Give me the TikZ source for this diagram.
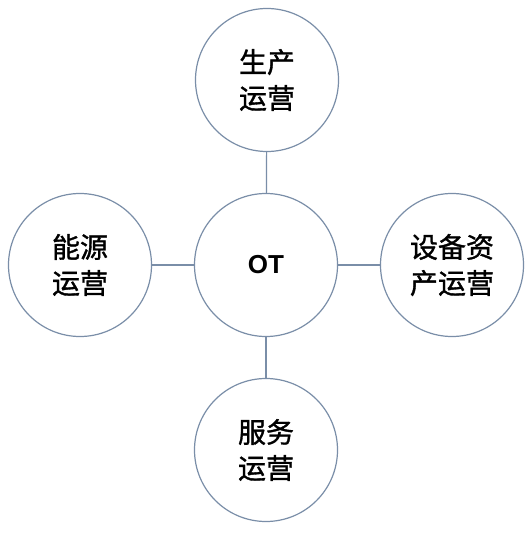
\documentclass[tikz,border=0pt]{standalone}
\usepackage{fontspec}
\newfontfamily\cjk[FakeBold=1.2]{Noto Sans CJK SC}
\newfontfamily\latinb{Liberation Sans}
\definecolor{ringc}{HTML}{7A8EA8}
\begin{document}
\begin{tikzpicture}[x=1pt,y=-1pt,
  ring/.style={circle,draw=ringc,line width=1.2pt,minimum size=143pt,inner sep=0pt,align=center,
    font=\cjk\fontsize{28}{36}\selectfont},
  link/.style={draw=ringc,line width=1.2pt}]
\useasboundingbox[fill=white] (0,0) rectangle (530,534);
\node[ring] (ot) at (266,265) {\latinb\bfseries\fontsize{26}{30}\selectfont OT};
\node[ring] (top) at (267,80) {生产\\运营};
\node[ring] (left) at (80,265) {能源\\运营};
\node[ring] (right) at (452,265) {设备资\\产运营};
\node[ring] (bot) at (266,450) {服务\\运营};
\draw[link] (ot) -- (top);
\draw[link] (ot) -- (left);
\draw[link] (ot) -- (right);
\draw[link] (ot) -- (bot);
\end{tikzpicture}
\end{document}
